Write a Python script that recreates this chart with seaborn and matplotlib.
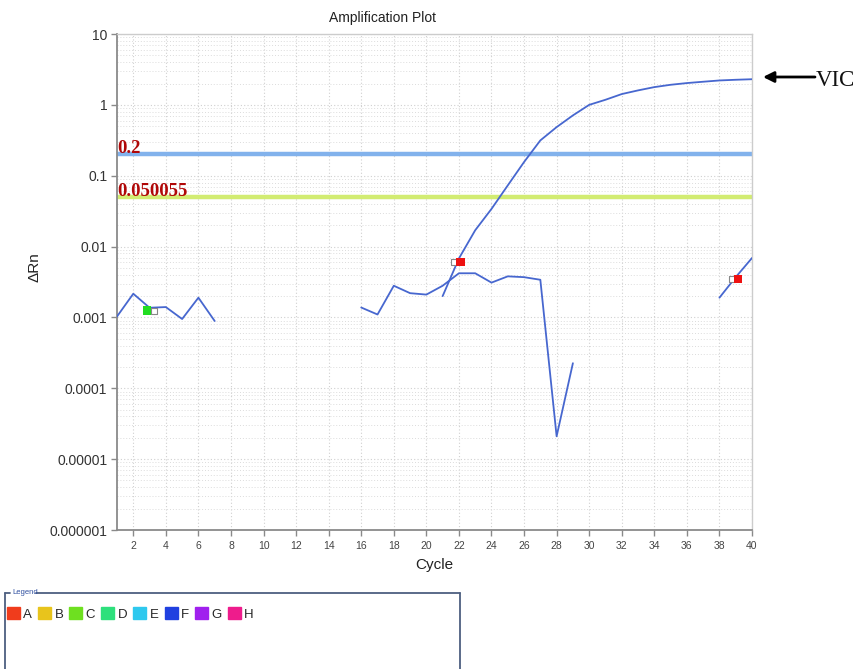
import numpy as np
import pandas as pd
import matplotlib
matplotlib.use("Agg")
import matplotlib.pyplot as plt
import seaborn as sns
from matplotlib.ticker import LogLocator, FixedLocator, FuncFormatter, NullFormatter
from matplotlib.patches import Patch
from matplotlib.lines import Line2D

# ---------------- data ----------------
cycles_early = [1, 2, 3, 4, 5, 6, 7]
drn_early = [0.00103, 0.00216, 0.00137, 0.0014, 0.00095, 0.0019, 0.00089]

cycles_mid = [16, 17, 18, 19, 20, 21, 22, 23, 24, 25, 26, 27, 28, 29]
drn_mid = [0.00138, 0.0011, 0.0028, 0.0022, 0.0021, 0.0028, 0.0042, 0.0042,
           0.0031, 0.0038, 0.0037, 0.0034, 0.000021, 0.000226]

cycles_amp = list(range(21, 41))
drn_amp = [0.002, 0.0068, 0.017, 0.034, 0.073, 0.156, 0.315, 0.485, 0.71, 1.0,
           1.18, 1.42, 1.6, 1.78, 1.92, 2.03, 2.12, 2.21, 2.26, 2.3]

cycles_tail = [38, 39, 40]
drn_tail = [0.0019, 0.0037, 0.0069]

thresholds = [0.2, 0.050055]
threshold_labels = ["0.2", "0.050055"]
threshold_colors = ["#82b2ec", "#d2ec72"]

ct_filled_x = [2.85, 22.1, 39.15]
ct_filled_y = [0.00125, 0.006, 0.0035]
ct_filled_c = ["#22dd22", "#ee1111", "#ee1111"]
ct_open_x = [3.25, 21.7, 38.75]
ct_open_y = [0.00125, 0.006, 0.0035]

y_tick_values = [1e-6, 1e-5, 1e-4, 1e-3, 1e-2, 1e-1, 1, 10]
y_tick_labels = ["0.000001", "0.00001", "0.0001", "0.001", "0.01", "0.1", "1", "10"]
x_ticks = list(range(2, 41, 2))

legend_labels = ["A", "B", "C", "D", "E", "F", "G", "H"]
legend_colors = ["#f03c1c", "#e8c41c", "#6ee020", "#2ee07c", "#2ec8ee", "#2040e0", "#a020ee", "#ee1c8c"]

# ---------------- frame ----------------
segs = []
for name, xs, ys in [("early", cycles_early, drn_early), ("mid", cycles_mid, drn_mid),
                     ("amp", cycles_amp, drn_amp), ("tail", cycles_tail, drn_tail)]:
    segs.append(pd.DataFrame({"cycle": xs, "drn": ys, "seg": name}))
df = pd.concat(segs, ignore_index=True)

sns.set_style("white")
plt.rcParams["font.family"] = ["Liberation Sans", "DejaVu Sans"]

fig = plt.figure(figsize=(8.62, 6.69), dpi=100)
ax = fig.add_axes([117 / 862, 1 - 530 / 669, (752 - 117) / 862, (530 - 34) / 669])
ax.set_yscale("log")

ax.set_xlim(1, 40)
ax.set_ylim(1e-6, 10)
ax.xaxis.set_major_locator(FixedLocator(x_ticks))
ax.yaxis.set_major_locator(FixedLocator(y_tick_values))


def yfmt(v, p):
    i = int(np.argmin([abs(np.log10(t) - np.log10(v)) for t in y_tick_values]))
    return y_tick_labels[i]


ax.yaxis.set_major_formatter(FuncFormatter(yfmt))
ax.yaxis.set_minor_locator(LogLocator(base=10, subs=np.arange(2, 10)))
ax.yaxis.set_minor_formatter(NullFormatter())
ax.grid(which="major", axis="both", color="#d0d0d0", linestyle=(0, (1, 2)), linewidth=0.8)
ax.grid(which="minor", axis="y", color="#dcdcdc", linestyle=(0, (1, 2)), linewidth=0.7)
ax.set_axisbelow(True)

# thresholds
for t, lab, c in zip(thresholds, threshold_labels, threshold_colors):
    ax.axhline(t, color=c, linewidth=3.2, zorder=2)
    ax.text(1.0, t * 1.04, lab, color="#b00808", fontsize=13.5, fontweight="bold",
            family=["Liberation Serif", "DejaVu Serif"], ha="left", va="baseline", zorder=4)

# curves
sns.lineplot(data=df, x="cycle", y="drn", units="seg", estimator=None,
             color="#4767cf", linewidth=1.3, ax=ax, zorder=3, legend=False)

# Ct markers
sns.scatterplot(x=ct_open_x, y=ct_open_y, marker="s", s=18, facecolor="white",
                edgecolor="#888888", linewidth=0.8, ax=ax, zorder=5, legend=False)
sns.scatterplot(x=ct_filled_x, y=ct_filled_y, marker="s", s=36, hue=ct_filled_x,
                palette=ct_filled_c, edgecolor="none", ax=ax, zorder=6, legend=False)

# spines & ticks
for side in ["left", "bottom"]:
    ax.spines[side].set_color("#8a8a8a")
    ax.spines[side].set_linewidth(1.3)
for side in ["top", "right"]:
    ax.spines[side].set_color("#cccccc")
    ax.spines[side].set_linewidth(1.0)
ax.tick_params(axis="y", which="major", length=4, width=1, color="#8a8a8a",
               labelsize=10, labelcolor="#333333", pad=3, direction="out", left=True)
ax.tick_params(axis="x", which="major", length=4, width=1, color="#8a8a8a",
               labelsize=7.5, labelcolor="#444444", pad=4, direction="out", bottom=True)
ax.tick_params(which="minor", length=0)

ax.set_xlabel("Cycle", fontsize=11, color="#222222", labelpad=5)
ax.set_ylabel("ΔRn", fontsize=11, color="#222222")
ax.yaxis.set_label_coords(-0.119, 0.53)
fig.text(383 / 862, 1 - 18 / 669, "Amplification Plot", fontsize=10, ha="center",
         va="center", color="#222222")

# VIC annotation
ax.annotate("", xy=(763 / 862, 1 - 77 / 669), xytext=(815 / 862, 1 - 77 / 669),
            xycoords="figure fraction", textcoords="figure fraction",
            arrowprops=dict(arrowstyle="-|>", lw=2, color="black", mutation_scale=16,
                            shrinkA=0, shrinkB=0))
fig.text(816 / 862, 1 - 80 / 669, "VIC", fontsize=16.5, ha="left", va="center",
         family=["Liberation Serif", "DejaVu Serif"], color="#111111")

# legend panel border (titled border)
bc = "#4d5f80"
ty = 1 - 592.5 / 669
fig.add_artist(Line2D([5 / 862, 10 / 862], [ty, ty], color=bc, lw=1.3, transform=fig.transFigure))
fig.add_artist(Line2D([36 / 862, 460 / 862], [ty, ty], color=bc, lw=1.3, transform=fig.transFigure))
fig.add_artist(Line2D([5 / 862, 5 / 862], [ty, 0], color=bc, lw=1.3, transform=fig.transFigure))
fig.add_artist(Line2D([460 / 862, 460 / 862], [ty, 0], color=bc, lw=1.3, transform=fig.transFigure))
fig.text(12 / 862, ty, "Legend", fontsize=5.5, color="#3050a0", ha="left", va="center")

handles = [Patch(facecolor=c, edgecolor=c) for c in legend_colors]
fig.legend(handles=handles, labels=legend_labels, ncol=8, loc="center left",
           bbox_to_anchor=(4 / 862, 1 - 614 / 669), frameon=False, fontsize=9.5,
           handlelength=1.0, handleheight=1.0, handletextpad=0.25, columnspacing=0.45,
           borderpad=0.2, borderaxespad=0)

fig.savefig("out.png", dpi=100)
